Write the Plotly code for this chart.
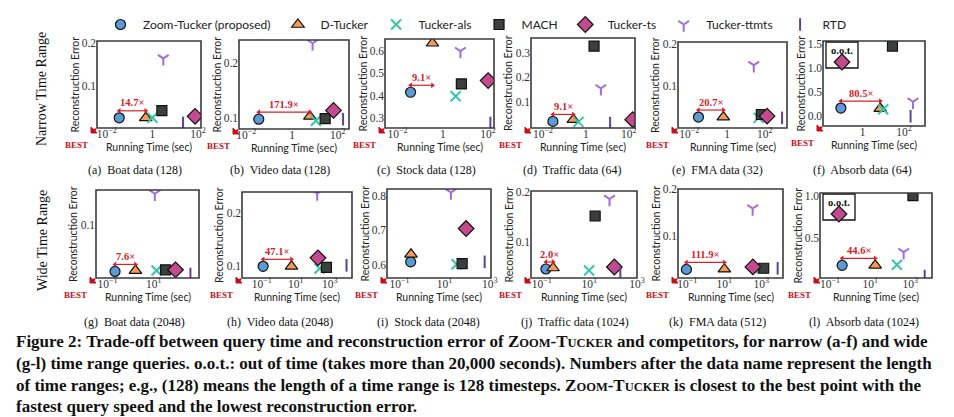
import math
import plotly.graph_objects as go

# page is photographed at 954x417; the html body adds an 8px margin
SCREEN_W, SCREEN_H = 954, 417
OX, OY = 8, 8
W, H = SCREEN_W - OX, SCREEN_H - OY


def fx(x):
    return (x - OX) / W


def fy(y):
    return 1 - (y - OY) / H


METHODS = ["Zoom-Tucker (proposed)", "D-Tucker", "Tucker-als", "MACH",
           "Tucker-ts", "Tucker-ttmts", "RTD"]

CAPTIONS = ["(a)  Boat data (128)", "(b)  Video data (128)", "(c)  Stock data (128)",
            "(d)  Traffic data (64)", "(e)  FMA data (32)", "(f)  Absorb data (64)",
            "(g)  Boat data (2048)", "(h)  Video data (2048)", "(i)  Stock data (2048)",
            "(j)  Traffic data (1024)", "(k)  FMA data (512)", "(l)  Absorb data (1024)"]

ROW_LABELS = ["Narrow Time Range", "Wide Time Range"]

# running time (sec) and reconstruction error, panels a..l
ZT_TIME = [0.035, 0.035, 0.038, 0.029, 0.031, 0.09, 0.21, 0.12, 0.31, 0.15, 0.09, 0.40]
ZT_ERR = [0.024, 0.097, 0.415, 0.019, 0.026, 0.17, 0.0124, 0.100, 0.608, 0.045, 0.0276, 0.173]
DT_TIME = [0.51, 6.0, 0.35, 0.26, 0.64, 7.2, 1.6, 5.6, 0.32, 0.30, 10.1, 17.8]
DT_ERR = [0.024, 0.102, 0.633, 0.026, 0.026, 0.16, 0.014, 0.100, 0.630, 0.047, 0.028, 0.173]
ALS_TIME = [1.0, 11, 3.7, 0.45, 47, 10, 13, 250, 34, 9.7, 1000, 215]
ALS_ERR = [0.024, 0.094, 0.397, 0.017, 0.024, 0.145, 0.014, 0.096, 0.601, 0.042, 0.030, 0.18]
MACH_TIME = [2.6, 28, 6.6, 2.4, 65, 28, 32, 630, 60, 17.5, 1340, 1350]
MACH_ERR = [0.041, 0.098, 0.452, 0.327, 0.032, 1.45, 0.0155, 0.098, 0.603, 0.151, 0.030, 1.0]
TS_TIME = [74, 65, 100, 152, 131, None, 86, 200, 90, 112, 350, None]
TS_ERR = [0.0275, 0.113, 0.467, 0.026, 0.028, None, 0.0155, 0.116, 0.705, 0.049, 0.033, None]
TTMTS_TIME = [3.0, 7.9, 6.0, 5.0, 26, 275, 11, 180, 19, 70, 340, 465]
TTMTS_ERR = [0.164, 0.236, 0.598, 0.154, 0.149, 0.30, 0.159, 0.237, 0.81, 0.185, 0.159, 0.33]
RTD_TIME = [22, 170, 126, 13.5, 812, 210, 380, 9500, 600, 200, 7600, 5200]
RTD_ERR = [0.012, 0.097, 0.278, 0.012, 0.024, 0.0, 0.0075, 0.102, 0.608, 0.038, 0.030, 0.045]

SPEEDUP = ["14.7×", "171.9×", "9.1×", "9.1×", "20.7×", "80.5×",
           "7.6×", "47.1×", "", "2.0×", "111.9×", "44.6×"]
OOT_TS = [False, False, False, False, False, True,
          False, False, False, False, False, True]

XTICK_NARROW = [0.01, 1, 100]
XTICK_NARROW_TEXT = ["10<sup>−2</sup>", "1", "10<sup>2</sup>"]
XTICK_WIDE = [0.1, 10, 1000]
XTICK_WIDE_TEXT = ["10<sup>−1</sup>", "10<sup>1</sup>", "10<sup>3</sup>"]
YTICKS = [[0.1, 0.2], [0.1, 0.2], [0.3, 0.4, 0.5, 0.6], [0.1, 0.2, 0.3], [0.1, 0.2],
          [0.0, 0.5, 1.0, 1.5], [0.1], [0.1, 0.2], [0.6, 0.7, 0.8], [0.1, 0.2],
          [0.1, 0.2], [0.5, 1.0]]

# axis ranges (x in log10 units)
X_RANGE = [[-2.43, 2.13], [-2.32, 2.49], [-2.55, 2.26], [-2.56, 2.29], [-2.59, 3.17],
           [-1.91, 3.02], [-1.5, 2.95], [-2.16, 4.3], [-1.56, 3.06], [-1.45, 3.0],
           [-1.5, 4.17], [-1.5, 4.08]]
Y_RANGE = [[0.0, 0.205], [0.079, 0.242], [0.256, 0.652], [-0.008, 0.36], [0.0, 0.204],
           [-0.2, 1.554], [0.0, 0.166], [0.078, 0.24], [0.561, 0.82], [0.027, 0.201],
           [0.009, 0.201], [0.023, 1.03]]

# ---- layout (screen pixels): left, right, top, bottom of each plot area
BOX = [(97, 201, 41, 128), (239, 349, 40, 129), (385, 494, 39, 128), (531, 635, 38, 128),
       (678, 787, 42, 128), (823, 925, 41, 126),
       (96, 199, 190, 278), (242, 352, 192, 278), (387, 491, 189, 278), (531, 637, 191, 278),
       (678, 783, 189, 278), (820, 932, 193, 278)]
CAP_X = [135, 280, 426, 572, 717, 862, 134, 280, 428, 575, 717, 864]
CAP_Y = [170, 322]

SERIF = "Liberation Serif"
SANS = "Lato"
RED = "#d9202a"
BEST_RED = "#c8101a"
FRAME = "#3a3a3a"

STYLES = {
    "Zoom-Tucker (proposed)": dict(symbol="circle", size=10, color="#5b9bd5",
                                   line=dict(color="#111", width=1.2)),
    "D-Tucker": dict(symbol="triangle-up", size=11, color="#f59d58",
                     line=dict(color="#111", width=1.2)),
    "Tucker-als": dict(symbol="x-thin-open", size=10, color="#38c4a8",
                       line=dict(color="#38c4a8", width=2)),
    "MACH": dict(symbol="square", size=10, color="#3b403d",
                 line=dict(color="#111", width=1.2)),
    "Tucker-ts": dict(symbol="diamond", size=12, color="#c34a8c",
                      line=dict(color="#111", width=1.2)),
    "Tucker-ttmts": dict(symbol="y-down-open", size=9, color="#9c6fdc",
                         line=dict(color="#9c6fdc", width=2)),
    "RTD": dict(symbol="line-ns-open", size=9, color="#5e40a0",
                line=dict(color="#5e40a0", width=2)),
}

SERIES = [(ZT_TIME, ZT_ERR), (DT_TIME, DT_ERR), (ALS_TIME, ALS_ERR), (MACH_TIME, MACH_ERR),
          (TS_TIME, TS_ERR), (TTMTS_TIME, TTMTS_ERR), (RTD_TIME, RTD_ERR)]


def ppath(points):
    return "M " + " L ".join("%.5f,%.5f" % (fx(x), fy(y)) for x, y in points) + " Z"


fig = go.Figure()
layout = {}
annotations = []
shapes = []

for i in range(12):
    s = "" if i == 0 else str(i + 1)
    xd, yd = "x" + s + " domain", "y" + s + " domain"
    l, r, t, b = BOX[i]
    pw, ph = r - l, b - t
    xlo, xhi = X_RANGE[i]
    ylo, yhi = Y_RANGE[i]
    wide = i >= 6
    axis_common = dict(showline=False, ticks="", ticklen=0, showgrid=False, zeroline=False,
                       automargin=False,
                       tickfont=dict(family=SERIF, size=11.5, color="#333"))
    layout["xaxis" + s] = dict(domain=[fx(l), fx(r)], anchor="y" + s, type="log",
                               range=X_RANGE[i],
                               tickvals=XTICK_WIDE if wide else XTICK_NARROW,
                               ticktext=XTICK_WIDE_TEXT if wide else XTICK_NARROW_TEXT,
                               ticklabelstandoff=-3, **axis_common)
    layout["yaxis" + s] = dict(domain=[fy(b), fy(t)], anchor="x" + s,
                               range=Y_RANGE[i], tickvals=YTICKS[i], tickformat=".1f",
                               **axis_common)
    # plot frame
    shapes.append(dict(type="rect", xref="paper", yref="paper",
                       x0=fx(l), x1=fx(r), y0=fy(b), y1=fy(t),
                       line=dict(color=FRAME, width=1.6), layer="above"))

    for m, (tt, ee) in zip(METHODS, SERIES):
        if tt[i] is None:
            continue
        fig.add_trace(go.Scatter(x=[tt[i]], y=[ee[i]], mode="markers", name=m,
                                 marker=STYLES[m], xaxis="x" + s, yaxis="y" + s,
                                 showlegend=(i == 0), hoverinfo="skip"))

    # o.o.t. inset for Tucker-ts
    if OOT_TS[i]:
        shapes.append(dict(type="rect", xref=xd, yref=yd,
                           x0=3 / pw, x1=35 / pw, y0=1 - 27 / ph, y1=1 - 1 / ph,
                           line=dict(color="#111", width=1.3), fillcolor="white", layer="below"))
        annotations.append(dict(xref=xd, yref=yd, x=19 / pw, y=1 - 10 / ph,
                                text="<b>o.o.t.</b>", showarrow=False,
                                xanchor="center", yanchor="middle",
                                font=dict(family=SERIF, size=10.5, color="#111")))
        ox, oy = 19 / pw, 1 - 21 / ph
        fig.add_trace(go.Scatter(x=[10 ** (xlo + ox * (xhi - xlo))], y=[ylo + oy * (yhi - ylo)],
                                 mode="markers", marker=STYLES["Tucker-ts"], name="Tucker-ts",
                                 xaxis="x" + s, yaxis="y" + s, showlegend=False,
                                 hoverinfo="skip"))

    # speedup arrow between Zoom-Tucker and D-Tucker (7px above the points)
    if SPEEDUP[i]:
        ay = ZT_ERR[i] + 7 * (yhi - ylo) / ph
        fig.add_trace(go.Scatter(x=[ZT_TIME[i], DT_TIME[i]], y=[ay, ay], mode="lines+markers",
                                 line=dict(color=RED, width=1.2),
                                 marker=dict(symbol=["triangle-left", "triangle-right"], size=5,
                                             color=RED),
                                 xaxis="x" + s, yaxis="y" + s, showlegend=False,
                                 hoverinfo="skip"))
        lz, ld = math.log10(ZT_TIME[i]), math.log10(DT_TIME[i])
        annotations.append(dict(xref="x" + s, yref="y" + s, x=(lz + ld) / 2, y=ay,
                                yshift=8, text="<b>" + SPEEDUP[i] + "</b>", showarrow=False,
                                xanchor="center", yanchor="middle",
                                font=dict(family=SERIF, size=10.5, color=RED)))

    # BEST corner arrow (pointing down-left, just outside the lower-left corner)
    tx, ty = l - 6, b + 5
    shapes.append(dict(type="path", xref="paper", yref="paper",
                       path=ppath([(tx, ty), (tx, ty - 6), (tx + 6, ty)]),
                       fillcolor=BEST_RED, line=dict(color=BEST_RED, width=1), layer="above"))
    shapes.append(dict(type="line", xref="paper", yref="paper",
                       x0=fx(tx + 2), y0=fy(ty - 2), x1=fx(l - 1), y1=fy(b + 1),
                       line=dict(color=BEST_RED, width=2.2), layer="above"))
    annotations.append(dict(xref=xd, yref=yd, x=0, y=0,
                            xanchor="right", yanchor="top", xshift=-7, yshift=-10,
                            text="<b>BEST</b>", showarrow=False,
                            font=dict(family=SERIF, size=9, color=BEST_RED)))

    # axis titles
    annotations.append(dict(xref=xd, yref=yd, x=0, y=0.5,
                            xshift=-23, textangle=-90, text="Reconstruction Error",
                            showarrow=False, xanchor="center", yanchor="middle",
                            font=dict(family=SANS, size=10.5, color="#222")))
    annotations.append(dict(xref=xd, yref=yd, x=0.5, y=0,
                            yshift=-19, text="Running Time (sec)", showarrow=False,
                            xanchor="center", yanchor="middle",
                            font=dict(family=SANS, size=10.5, color="#222")))

    # sub-captions
    annotations.append(dict(xref="paper", yref="paper", x=fx(CAP_X[i]),
                            y=fy(CAP_Y[1 if wide else 0]), text=CAPTIONS[i],
                            showarrow=False, xanchor="center", yanchor="middle",
                            font=dict(family=SERIF, size=12, color="#111")))

# row labels
for k, yc in enumerate([89, 241]):
    annotations.append(dict(xref="paper", yref="paper", x=fx(42), y=fy(yc),
                            text=ROW_LABELS[k], textangle=-90, showarrow=False,
                            xanchor="center", yanchor="middle",
                            font=dict(family=SERIF, size=14, color="#111")))

SC = '<span style="font-size:12.5px">'
ZT_SC = "Z" + SC + "OOM</span>-T" + SC + "UCKER</span>"
CAPTION_LINES = [
    "Figure 2: Trade-off between query time and reconstruction error of " + ZT_SC +
    " and competitors, for narrow (a-f) and wide",
    "(g-l) time range queries. o.o.t.: out of time (takes more than 20,000 seconds). "
    "Numbers after the data name represent the length",
    "of time ranges; e.g., (128) means the length of a time range is 128 timesteps. " + ZT_SC +
    " is closest to the best point with the",
    "fastest query speed and the lowest reconstruction error.",
]
for k, yc in enumerate([341, 363, 385, 406]):
    annotations.append(dict(xref="paper", yref="paper", x=fx(14), y=fy(yc),
                            text="<b>" + CAPTION_LINES[k] + "</b>", showarrow=False,
                            xanchor="left", yanchor="middle",
                            font=dict(family=SERIF, size=17, color="#111")))

fig.update_layout(
    width=W, height=H, margin=dict(l=0, r=0, t=0, b=0),
    paper_bgcolor="white", plot_bgcolor="white",
    showlegend=True,
    legend=dict(orientation="h", x=fx(98), y=fy(10), xanchor="left", yanchor="top",
                font=dict(family=SANS, size=12, color="#222"), itemwidth=35,
                bgcolor="rgba(0,0,0,0)"),
    annotations=annotations, shapes=shapes,
    **layout,
)

fig.write_html("out.html")
